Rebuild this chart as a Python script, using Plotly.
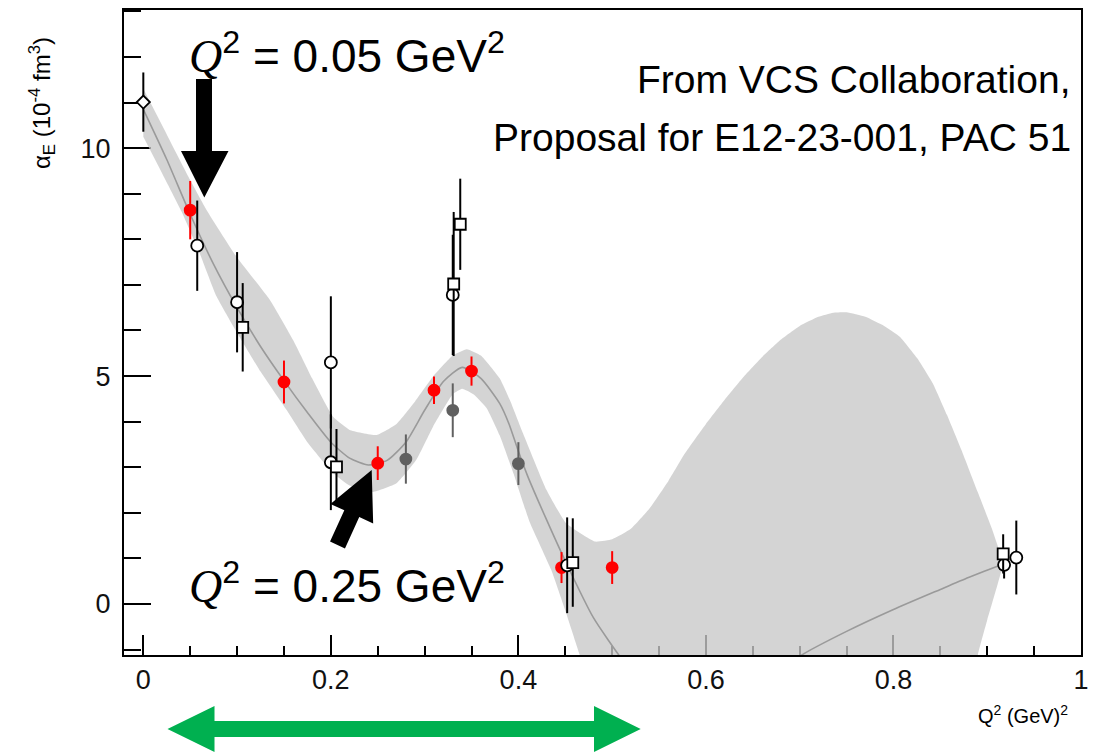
import math
import plotly.graph_objects as go

# ---------------- data ----------------
# fitted curve (two visible pieces)
curve_a_x = [0, 0.025, 0.05, 0.075, 0.1, 0.125, 0.15, 0.175, 0.2, 0.22, 0.24, 0.26, 0.28, 0.3,
             0.32, 0.34, 0.36, 0.38, 0.39, 0.4, 0.41, 0.43, 0.451, 0.48, 0.51, 0.53]
curve_a_y = [10.85, 9.75, 8.55, 7.45, 6.5, 5.65, 4.9, 4.2, 3.55, 3.2, 3.05, 3.15, 3.55, 4.25,
             4.88, 5.19, 4.95, 4.4, 3.95, 3.35, 2.8, 1.85, 0.9, -0.3, -1.2, -1.7]
curve_b_x = [0.69, 0.702, 0.75, 0.8, 0.85, 0.88, 0.915]
curve_b_y = [-1.3, -1.12, -0.6, -0.12, 0.32, 0.58, 0.86]

# uncertainty band
band_up_x = [0, 0.025, 0.05, 0.0676, 0.1, 0.135, 0.16, 0.18, 0.2026, 0.22, 0.249, 0.27, 0.29,
             0.309, 0.33, 0.345, 0.36, 0.38, 0.391, 0.405, 0.43, 0.451, 0.4815, 0.5, 0.52,
             0.54, 0.56, 0.5775, 0.6, 0.62, 0.64, 0.66, 0.68, 0.7, 0.72, 0.7356, 0.75, 0.77,
             0.79, 0.807, 0.825, 0.842, 0.857, 0.8725, 0.89, 0.905, 0.913, 0.917]
band_up_y = [11.3, 10.3, 9.3, 8.64, 7.6, 6.67, 5.78, 4.95, 4.1, 3.82, 3.71, 3.95, 4.45,
             4.99, 5.45, 5.59, 5.45, 4.95, 4.47, 3.74, 2.5, 1.77, 1.37, 1.42, 1.65,
             2.1, 2.7, 3.3, 3.95, 4.48, 4.98, 5.42, 5.8, 6.1, 6.3, 6.39, 6.4, 6.3,
             6.1, 5.86, 5.4, 4.84, 4.15, 3.38, 2.45, 1.65, 1.18, 1.05]
band_lo_x = [0, 0.02, 0.041, 0.06, 0.078, 0.1, 0.125, 0.153, 0.175, 0.2026, 0.22, 0.245, 0.27,
             0.291, 0.309, 0.33, 0.34, 0.352, 0.366, 0.38, 0.395, 0.412, 0.435, 0.451, 0.466,
             0.48, 0.6, 0.8, 0.885, 0.89, 0.9, 0.916]
band_lo_y = [10.25, 9.45, 8.6, 7.7, 6.75, 5.95, 5.1, 4.25, 3.55, 2.87, 2.6, 2.46, 2.65,
             3.16, 3.89, 4.6, 4.72, 4.6, 4.3, 3.7, 2.85, 1.8, 0.75, -0.2, -1.15,
             -2.0, -3.0, -3.0, -2.0, -1.12, -0.35, 0.8]

# red points (filled)
red_x = [0.05, 0.15, 0.25, 0.31, 0.35, 0.446, 0.50]
red_y = [8.64, 4.87, 3.09, 4.69, 5.11, 0.80, 0.80]
red_e = [0.64, 0.47, 0.37, 0.30, 0.32, 0.34, 0.36]

# dark grey points (filled)
grey_x = [0.28, 0.33, 0.40]
grey_y = [3.18, 4.25, 3.08]
grey_e = [0.54, 0.59, 0.47]

# open circles
circ_x = [0.0575, 0.1, 0.2, 0.2, 0.33, 0.452, 0.918, 0.931]
circ_y = [7.86, 6.62, 5.30, 3.11, 6.78, 0.85, 0.86, 1.02]
circ_e = [0.99, 1.10, 1.45, 1.05, 1.32, 1.05, 0.30, 0.81]

# open squares
sq_x = [0.106, 0.206, 0.331, 0.338, 0.458, 0.917]
sq_y = [6.07, 3.01, 7.02, 8.33, 0.91, 1.10]
sq_e = [0.97, 0.83, 1.58, 1.00, 0.97, 0.43]

# open diamond (real Compton scattering point)
dia_x = [0.0]
dia_y = [11.01]
dia_e = [0.65]

x_tickvals = [0, 0.2, 0.4, 0.6, 0.8, 1]
x_ticktext = ["0", "0.2", "0.4", "0.6", "0.8", "1"]
y_tickvals = [0, 5, 10]
y_ticktext = ["0", "5", "10"]

# ---------------- figure ----------------
W, H = 1112, 752
L, R, T, B = 124, 31, 10, 97
PW, PH = W - L - R, H - T - B

SANS = "Liberation Sans, Arial, Helvetica, sans-serif"

fig = go.Figure()

fig.add_trace(go.Scatter(
    x=band_up_x + band_lo_x[::-1], y=band_up_y + band_lo_y[::-1],
    fill="toself", fillcolor="rgba(200,200,200,0.78)", mode="lines",
    line=dict(width=0, shape="spline", smoothing=0.4), hoverinfo="skip", showlegend=False))

for cx, cy in [(curve_a_x, curve_a_y), (curve_b_x, curve_b_y)]:
    fig.add_trace(go.Scatter(x=cx, y=cy, mode="lines",
                             line=dict(color="#9a9a9a", width=1.6, shape="spline", smoothing=0.6),
                             hoverinfo="skip", showlegend=False))

def pts(x, y, e, symbol, size, fill, edge, barcol):
    fig.add_trace(go.Scatter(
        x=x, y=y, mode="markers",
        marker=dict(symbol=symbol, size=size, color=fill, line=dict(color=edge, width=1.8)),
        error_y=dict(type="data", array=e, width=0, thickness=2, color=barcol),
        showlegend=False))

pts(grey_x, grey_y, grey_e, "circle", 11, "#606060", "#606060", "#606060")
pts(red_x, red_y, red_e, "circle", 11, "#ff0000", "#ff0000", "#ff0000")
pts(circ_x, circ_y, circ_e, "circle", 12, "white", "black", "black")
pts(sq_x, sq_y, sq_e, "square", 11, "white", "black", "black")
pts(dia_x, dia_y, dia_e, "diamond", 10, "white", "black", "black")

# ---------------- arrows (pixel geometry -> paper coords) ----------------
def P(xp, yp):
    return ((xp - L) / PW, (H - B - yp) / PH)

def poly(points, color):
    pp = [P(a, b) for a, b in points]
    path = "M " + " L ".join(f"{a:.5f},{b:.5f}" for a, b in pp) + " Z"
    fig.add_shape(type="path", xref="paper", yref="paper", path=path,
                  fillcolor=color, line=dict(width=0), layer="above")

# vertical arrow to Q^2 = 0.05
poly([(196, 79), (212, 79), (212, 151), (228.5, 151), (204.3, 197.5),
      (181, 151), (196, 151)], "black")

# diagonal arrow to Q^2 = 0.25
tip = (371.7, 470.0)
tail = (337.5, 545.0)
dx, dy = tip[0] - tail[0], tip[1] - tail[1]
ln = math.hypot(dx, dy)
ux, uy = dx / ln, dy / ln
nx, ny = -uy, ux
hl, hw, sw = 48.0, 23.5, 8.2
bx, by = tip[0] - ux * hl, tip[1] - uy * hl
poly([(tail[0] + nx * sw, tail[1] + ny * sw), (bx + nx * sw, by + ny * sw),
      (bx + nx * hw, by + ny * hw), tip, (bx - nx * hw, by - ny * hw),
      (bx - nx * sw, by - ny * sw), (tail[0] - nx * sw, tail[1] - ny * sw)], "black")

# green double arrow under the axis
gy, ghw, gsw = 729, 23, 8
poly([(167.5, gy), (214.5, gy - ghw), (214.5, gy - gsw), (594, gy - gsw), (594, gy - ghw),
      (640.7, gy), (594, gy + ghw), (594, gy + gsw), (214.5, gy + gsw), (214.5, gy + ghw)],
     "#00b050")

# ---------------- texts ----------------
qsty = "<span style='font-family:Liberation Serif, Times New Roman, serif'><i>Q</i></span>"

def ann(text, xp, yp, size, family, xanchor="left", angle=0, yanchor="middle"):
    ax, ay = P(xp, yp)
    fig.add_annotation(text=text, x=ax, y=ay, xref="paper", yref="paper",
                       xanchor=xanchor, yanchor=yanchor, showarrow=False, textangle=angle,
                       font=dict(size=size, family=family, color="black"))

ann(qsty + "<sup>2</sup> = 0.05 GeV<sup>2</sup>", 187, 53, 46, SANS)
ann(qsty + "<sup>2</sup> = 0.25 GeV<sup>2</sup>", 187, 583, 46, SANS)
ann("From VCS Collaboration,", 1073, 80, 39, SANS, xanchor="right")
ann("Proposal for E12-23-001, PAC 51", 1073, 137, 39, SANS, xanchor="right")
ann("α<sub>E</sub> (10<sup>-4</sup> fm<sup>3</sup>)", 42, 103, 24, SANS, xanchor="center", angle=-90)
ann("Q<sup>2</sup> (GeV)<sup>2</sup>", 976, 714, 20, SANS, xanchor="left")

axis_common = dict(showline=True, linecolor="black", linewidth=2, mirror=True,
                   ticks="inside", tickcolor="black", tickwidth=1.5,
                   showgrid=False, zeroline=False, layer="below traces",
                   tickfont=dict(size=27, family=SANS, color="#111"))

fig.update_xaxes(range=[-0.0206, 1.0], tickmode="array", tickvals=x_tickvals,
                 ticktext=x_ticktext, ticklen=20, ticklabelstandoff=0,
                 minor=dict(dtick=0.05, ticklen=9, tickwidth=1.5, tickcolor="black",
                            ticks="inside", showgrid=False),
                 **axis_common)
fig.update_yaxes(range=[-1.118, 13.03], tickmode="array", tickvals=y_tickvals,
                 ticktext=y_ticktext, ticklen=27, ticklabelstandoff=6,
                 minor=dict(dtick=1, ticklen=17, tickwidth=1.5, tickcolor="black",
                            ticks="inside", showgrid=False),
                 **axis_common)

fig.update_layout(width=W, height=H, margin=dict(l=L, r=R, t=T, b=B, autoexpand=False),
                  paper_bgcolor="white", plot_bgcolor="white", showlegend=False)

fig.write_html("out.html", config={"displayModeBar": False},
               post_script="document.body.style.margin='0';")
